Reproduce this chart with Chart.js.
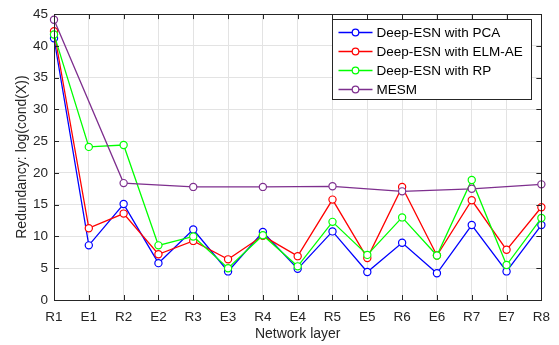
<!DOCTYPE html>
<html>
<head>
<meta charset="utf-8">
<script src="https://cdn.jsdelivr.net/npm/chart.js@4"></script>
<style>
  html, body { margin: 0; padding: 0; background: #fff; }
  #wrap { width: 559px; height: 345px; }
</style>
</head>
<body>
<div id="wrap"><canvas id="chart" width="559" height="345"></canvas></div>
<script>
// layers along the x axis
const layers = ['R1', 'E1', 'R2', 'E2', 'R3', 'E3', 'R4', 'E4', 'R5', 'E5', 'R6', 'E6', 'R7', 'E7', 'R8'];

// redundancy values
const pcaValues = [41.2, 8.6, 15.1, 5.8, 11.1, 4.5, 10.7, 4.9, 10.8, 4.4, 9.0, 4.2, 11.8, 4.5, 11.8];
const elmValues = [42.3, 11.3, 13.6, 7.2, 9.3, 6.4, 10.1, 6.9, 15.8, 6.6, 17.8, 7.0, 15.7, 7.9, 14.6];
const rpValues  = [41.8, 24.1, 24.4, 8.6, 10.0, 5.0, 10.2, 5.3, 12.3, 7.1, 13.0, 7.0, 18.9, 5.5, 12.9];
// MESM only has reservoir layers
const mesmValues = [44.1, null, 18.4, null, 17.8, null, 17.8, null, 17.9, null, 17.1, null, 17.5, null, 18.2];

const yTicks = [0, 5, 10, 15, 20, 25, 30, 35, 40, 45];

const fontFamily = '"Liberation Sans", Arial, Helvetica, sans-serif';
const textColor = '#262626';

function series(label, data, color, order) {
    return {
        label: label,
        data: data,
        borderColor: color,
        backgroundColor: '#ffffff',
        borderWidth: 1.3,
        pointRadius: 3.6,
        pointBorderWidth: 1.2,
        pointBackgroundColor: '#ffffff',
        pointBorderColor: color,
        tension: 0,
        spanGaps: true,
        order: order
    };
}

// box around the plot with inward ticks, like the original figure
const boxPlugin = {
    id: 'box',
    afterDatasetsDraw(chart) {
        const ctx = chart.ctx;
        const a = chart.chartArea;
        const x = chart.scales.x;
        const y = chart.scales.y;
        const t = 5;
        ctx.save();
        ctx.strokeStyle = textColor;
        ctx.lineWidth = 1;
        ctx.beginPath();
        x.ticks.forEach((tk, i) => {
            const px = Math.round(x.getPixelForTick(i)) + 0.5;
            ctx.moveTo(px, a.bottom); ctx.lineTo(px, a.bottom - t);
            ctx.moveTo(px, a.top); ctx.lineTo(px, a.top + t);
        });
        y.ticks.forEach((tk, i) => {
            const py = Math.round(y.getPixelForValue(tk.value)) + 0.5;
            ctx.moveTo(a.left, py); ctx.lineTo(a.left + t, py);
            ctx.moveTo(a.right, py); ctx.lineTo(a.right - t, py);
        });
        ctx.stroke();
        ctx.strokeRect(Math.round(a.left) + 0.5, Math.round(a.top) + 0.5,
            Math.round(a.right - a.left), Math.round(a.bottom - a.top));
        ctx.restore();
    }
};

// legend drawn inside the plot area, top right
const legendPlugin = {
    id: 'insideLegend',
    afterDraw(chart) {
        const ctx = chart.ctx;
        const sets = chart.data.datasets;
        const bx = 332.5, by = 19.5, bw = 199, bh = 80;
        const rowH = 19;
        ctx.save();
        ctx.fillStyle = '#ffffff';
        ctx.fillRect(bx, by, bw, bh);
        ctx.strokeStyle = textColor;
        ctx.lineWidth = 1;
        ctx.strokeRect(bx, by, bw, bh);
        ctx.font = '13.5px ' + fontFamily;
        ctx.textBaseline = 'middle';
        sets.forEach((ds, i) => {
            const cy = by + 13 + i * rowH;
            ctx.strokeStyle = ds.borderColor;
            ctx.lineWidth = 1.3;
            ctx.beginPath();
            ctx.moveTo(bx + 6, cy); ctx.lineTo(bx + 40, cy);
            ctx.stroke();
            ctx.beginPath();
            ctx.arc(bx + 23, cy, 3.3, 0, Math.PI * 2);
            ctx.fillStyle = '#ffffff';
            ctx.fill();
            ctx.lineWidth = 1.2;
            ctx.stroke();
            ctx.fillStyle = '#000000';
            ctx.fillText(ds.label, bx + 44, cy + 1);
        });
        ctx.restore();
    }
};

const ctx = document.getElementById('chart').getContext('2d');
new Chart(ctx, {
    type: 'line',
    data: {
        labels: layers,
        datasets: [
            series('Deep-ESN with PCA', pcaValues, '#0000ff', 3),
            series('Deep-ESN with ELM-AE', elmValues, '#ff0000', 2),
            series('Deep-ESN with RP', rpValues, '#00ff00', 1),
            series('MESM', mesmValues, '#7e2f8e', 0)
        ]
    },
    options: {
        responsive: false,
        animation: false,
        layout: { padding: { left: 0, right: 17, top: 9, bottom: 0 } },
        plugins: {
            legend: { display: false },
            tooltip: { enabled: false }
        },
        scales: {
            x: {
                offset: false,
                afterFit: (s) => { s.height = 45; },
                grid: { color: '#e3e3e3', drawTicks: false, lineWidth: 1 },
                border: { display: false },
                ticks: {
                    color: textColor,
                    padding: 9,
                    maxRotation: 0,
                    autoSkip: false,
                    font: { family: fontFamily, size: 13.5 }
                },
                title: {
                    display: true,
                    text: 'Network layer',
                    color: textColor,
                    padding: { top: 0, bottom: 2 },
                    font: { family: fontFamily, size: 14 }
                }
            },
            y: {
                min: 0,
                max: 45,
                afterFit: (s) => { s.width = 54; },
                afterBuildTicks: (s) => { s.ticks = yTicks.map(v => ({ value: v })); },
                grid: { color: '#e3e3e3', drawTicks: false, lineWidth: 1 },
                border: { display: false },
                ticks: {
                    color: textColor,
                    padding: 6,
                    font: { family: fontFamily, size: 13.5 }
                },
                title: {
                    display: true,
                    text: 'Redundancy: log(cond(X))',
                    color: textColor,
                    padding: { top: 14, bottom: 0 },
                    font: { family: fontFamily, size: 14 }
                }
            }
        }
    },
    plugins: [boxPlugin, legendPlugin]
});
</script>
</body>
</html>
